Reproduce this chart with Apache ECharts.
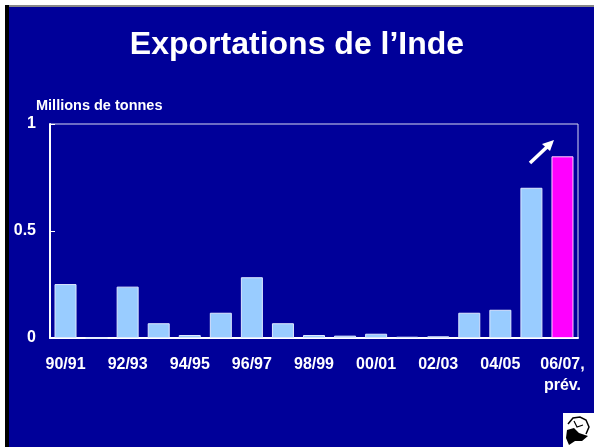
<!DOCTYPE html>
<html>
<head>
<meta charset="utf-8">
<script src="https://cdn.jsdelivr.net/npm/echarts@6/dist/echarts.min.js"></script>
<style>
  html, body { margin: 0; padding: 0; background: #fff; }
  #main { width: 594px; height: 447px; }
</style>
</head>
<body>
<div id="main"></div>
<script>
var categories = ["90/91", "91/92", "92/93", "93/94", "94/95", "95/96", "96/97", "97/98",
  "98/99", "99/00", "00/01", "01/02", "02/03", "03/04", "04/05", "05/06", "06/07,\nprév."];
var exports = [0.252, 0, 0.24, 0.069, 0.014, 0.118, 0.284, 0.069,
  0.014, 0.011, 0.02, 0.006, 0.008, 0.118, 0.132, 0.702, 0.849];
var yTicks = [0, 0.5, 1];

var chart = echarts.init(document.getElementById("main"));

var barData = exports.map(function (v, i) {
  if (i === exports.length - 1) {
    return { value: v, itemStyle: { color: "#ff00ff", borderColor: "#ffd0ff" } };
  }
  return v;
});

chart.setOption({
  backgroundColor: "#000099",
  animation: false,
  title: [
    {
      text: "Exportations de l\u2019Inde",
      left: "center",
      top: 24,
      textStyle: { color: "#fff", fontFamily: "Liberation Sans, Arial", fontWeight: "bold", fontSize: 32 }
    },
    {
      text: "Millions de tonnes",
      left: 31,
      top: 93,
      textStyle: { color: "#fff", fontFamily: "Liberation Sans, Arial", fontWeight: "bold", fontSize: 14.5 }
    }
  ],
  grid: { left: 50, right: 16, top: 124, bottom: 109, show: true, borderColor: "#d8d8f0", borderWidth: 1 },
  xAxis: {
    type: "category",
    data: categories,
    axisLine: { lineStyle: { color: "#fff", width: 2 } },
    axisTick: { inside: true, length: 5, interval: 0, lineStyle: { color: "#fff" } },
    axisLabel: {
      interval: 1,
      color: "#fff",
      fontFamily: "Liberation Sans, Arial",
      fontWeight: "bold",
      fontSize: 16,
      margin: 16,
      lineHeight: 21
    }
  },
  yAxis: {
    type: "value",
    min: yTicks[0],
    max: yTicks[yTicks.length - 1],
    interval: 0.5,
    splitLine: { show: false },
    axisLine: { show: true, lineStyle: { color: "#fff", width: 2 } },
    axisTick: { show: true, inside: true, length: 5, lineStyle: { color: "#fff" } },
    axisLabel: {
      color: "#fff",
      fontFamily: "Liberation Sans, Arial",
      fontWeight: "bold",
      fontSize: 16,
      margin: 14
    }
  },
  series: [
    {
      type: "bar",
      data: barData,
      barWidth: 22,
      itemStyle: { color: "#99ccff", borderColor: "#dde8ff", borderWidth: 1 }
    }
  ],
  graphic: [
    // slide frame
    { type: "rect", shape: { x: 0, y: 0, width: 594, height: 5 }, style: { fill: "#fff" } },
    { type: "rect", shape: { x: 0, y: 0, width: 5, height: 447 }, style: { fill: "#fff" } },
    { type: "rect", shape: { x: 5, y: 5, width: 589, height: 2 }, style: { fill: "#888" } },
    { type: "rect", shape: { x: 5, y: 5, width: 4, height: 442 }, style: { fill: "#000" } },
    // arrow
    { type: "line", shape: { x1: 530, y1: 163, x2: 548, y2: 146 }, style: { stroke: "#fff", lineWidth: 3.5 } },
    { type: "polygon", shape: { points: [[554, 140], [542, 144], [550, 151]] }, style: { fill: "#fff" } },
    // logo
    { type: "rect", shape: { x: 563, y: 413, width: 31, height: 34 }, style: { fill: "#fff" } },
    {
      type: "polyline",
      shape: { points: [[568, 424], [573, 418], [580, 417], [586, 420], [589, 427], [586, 434]] },
      style: { stroke: "#000", lineWidth: 1.5, fill: null }
    },
    {
      type: "polygon",
      shape: { points: [[567, 430], [574, 428], [579, 433], [588, 436], [582, 441], [575, 441], [569, 445], [566, 438]] },
      style: { fill: "#000" }
    },
    {
      type: "polyline",
      shape: { points: [[574, 421], [577, 427], [583, 425]] },
      style: { stroke: "#000", lineWidth: 1.2, fill: null }
    }
  ]
});
</script>
</body>
</html>
